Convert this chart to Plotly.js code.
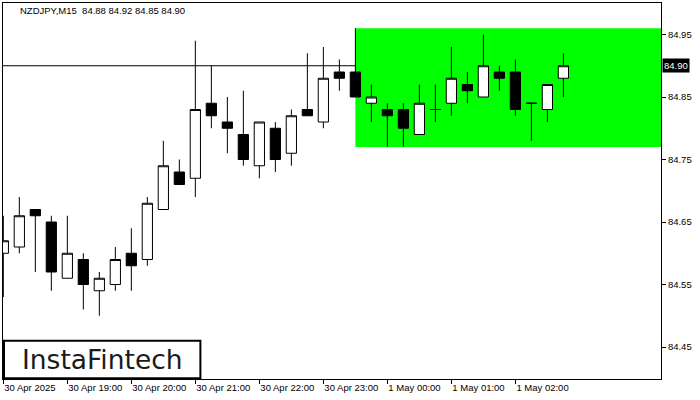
<!DOCTYPE html>
<html>
<head>
<meta charset="utf-8">
<script src="https://cdn.plot.ly/plotly-3.0.1.min.js"></script>
<style>
  html, body { margin: 0; padding: 0; background: #ffffff; }
  #chart { width: 700px; height: 400px; }
</style>
</head>
<body>
<div id="chart"></div>
<script>
// ---- data (NZDJPY, M15) ----
const symbolTitle = "NZDJPY,M15";
const candleIndex = [0,1,2,3,4,5,6,7,8,9,10,11,12,13,14,15,16,17,18,19,20,21,22,23,24,25,26,27,28,29,30,31,32,33,34,35];
const openVals  = [84.60,84.61,84.67,84.65,84.56,84.59,84.54,84.55,84.60,84.59,84.67,84.73,84.72,84.84,84.81,84.79,84.74,84.80,84.76,84.83,84.81,84.89,84.89,84.84,84.83,84.83,84.79,84.83,84.84,84.87,84.85,84.89,84.89,84.84,84.83,84.88];
const highVals  = [84.66,84.69,84.67,84.66,84.66,84.60,84.57,84.61,84.64,84.69,84.78,84.75,84.94,84.90,84.85,84.86,84.81,84.81,84.83,84.92,84.93,84.91,84.96,84.87,84.84,84.84,84.87,84.87,84.93,84.89,84.95,84.90,84.91,84.84,84.87,84.92];
const lowVals   = [84.53,84.60,84.57,84.54,84.56,84.51,84.50,84.54,84.54,84.58,84.67,84.71,84.69,84.80,84.76,84.74,84.72,84.73,84.74,84.82,84.80,84.86,84.85,84.81,84.77,84.77,84.79,84.81,84.82,84.84,84.85,84.86,84.82,84.78,84.81,84.85];
const closeVals = [84.62,84.66,84.66,84.57,84.60,84.55,84.56,84.59,84.58,84.68,84.74,84.71,84.83,84.82,84.80,84.75,84.81,84.75,84.82,84.82,84.88,84.88,84.85,84.85,84.82,84.80,84.84,84.83,84.88,84.86,84.90,84.88,84.83,84.84,84.87,84.90];

const xTickVals  = [0,4,8,12,16,20,24,28,32];
const xTickText  = ["30 Apr 2025","30 Apr 19:00","30 Apr 20:00","30 Apr 21:00","30 Apr 22:00","30 Apr 23:00","1 May 00:00","1 May 01:00","1 May 02:00"];
const yTickVals  = [84.45,84.55,84.65,84.75,84.85,84.95];

// pattern zone (rectangle) bounds
const zoneStartIndex = 22;
const zoneHigh = 84.96;
const zoneLow  = 84.77;

const last = closeVals.length - 1;
const headerText = symbolTitle + "  " + [openVals[last], highVals[last], lowVals[last], closeVals[last]].map(v => v.toFixed(2)).join(" ");

const tickFont = { family: "Liberation Sans, Arial, sans-serif", size: 9.5, color: "#000000" };

const trace = {
  type: "candlestick",
  x: candleIndex,
  open: openVals,
  high: highVals,
  low: lowVals,
  close: closeVals,
  increasing: { fillcolor: "#ffffff", line: { color: "#000000", width: 1 } },
  decreasing: { fillcolor: "#000000", line: { color: "#000000", width: 1 } },
  whiskerwidth: 0,
  hoverinfo: "skip",
  showlegend: false
};

const layout = {
  width: 700,
  height: 400,
  margin: { l: 3, r: 39, t: 3, b: 21, pad: 0 },
  paper_bgcolor: "#ffffff",
  plot_bgcolor: "#ffffff",
  boxgap: 0.36,
  boxgroupgap: 0,
  showlegend: false,
  xaxis: {
    type: "linear",
    range: [-0.02, 41.1],
    rangeslider: { visible: false },
    showgrid: false,
    zeroline: false,
    showline: true,
    mirror: true,
    linecolor: "#000000",
    linewidth: 1,
    ticks: "outside",
    ticklen: 4,
    tickcolor: "#000000",
    tickvals: xTickVals,
    ticktext: xTickText,
    ticklabelposition: "outside right",
    tickfont: tickFont,
    fixedrange: true
  },
  yaxis: {
    side: "right",
    range: [84.3988, 85.0004],
    showgrid: false,
    zeroline: false,
    showline: true,
    mirror: true,
    linecolor: "#000000",
    linewidth: 1,
    ticks: "outside",
    ticklen: 4,
    tickcolor: "#000000",
    tickvals: yTickVals,
    tickformat: ".2f",
    tickfont: tickFont,
    fixedrange: true
  },
  shapes: [
    {
      type: "rect", layer: "below",
      xref: "x", yref: "y",
      x0: zoneStartIndex, x1: 41.1,
      y0: zoneLow, y1: zoneHigh,
      fillcolor: "#00ff00", line: { width: 0 }
    },
    {
      type: "line", layer: "below",
      xref: "paper", yref: "y",
      x0: 0, x1: 1,
      y0: closeVals[last], y1: closeVals[last],
      line: { color: "#000000", width: 1 }
    },
    {
      type: "rect", layer: "above",
      xref: "paper", yref: "paper",
      x0: 0.0015, x1: 0.3, y0: 0.002, y1: 0.1015,
      fillcolor: "#ffffff", line: { color: "#000000", width: 2 }
    }
  ],
  annotations: [
    {
      xref: "paper", yref: "paper",
      x: 0.0228, y: 0.981,
      xanchor: "left", yanchor: "middle",
      text: headerText, showarrow: false,
      font: { family: "Liberation Sans, Arial, sans-serif", size: 9.5, color: "#000000" }
    },
    {
      xref: "paper", yref: "y",
      x: 1, y: closeVals[last],
      xanchor: "left", yanchor: "middle", xshift: 1,
      text: closeVals[last].toFixed(2), showarrow: false,
      bgcolor: "#000000", borderpad: 1,
      font: { family: "Liberation Sans, Arial, sans-serif", size: 9.5, color: "#ffffff" }
    },
    {
      xref: "paper", yref: "paper",
      x: 0.1505, y: 0.053,
      xanchor: "center", yanchor: "middle",
      text: "InstaFintech", showarrow: false,
      font: { family: "DejaVu Sans, sans-serif", size: 26.5, color: "#1a1a1a" }
    }
  ]
};

Plotly.newPlot("chart", [trace], layout, { staticPlot: true, displayModeBar: false });
</script>
</body>
</html>
